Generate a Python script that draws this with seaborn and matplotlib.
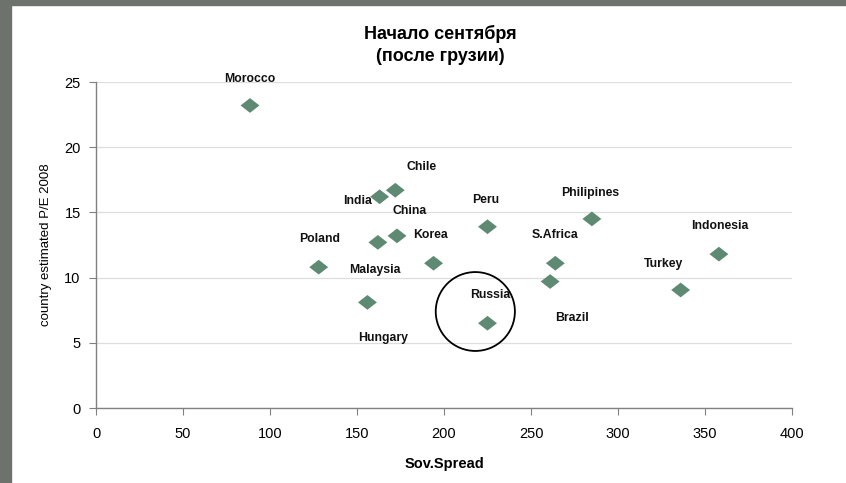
import matplotlib
matplotlib.use("Agg")
import matplotlib.pyplot as plt
import seaborn as sns
import pandas as pd
from matplotlib.patches import Ellipse, Rectangle

countries = ["Morocco", "India", "Chile", "China", "Malaysia", "Poland", "Korea",
             "Hungary", "Peru", "Russia", "S.Africa", "Brazil", "Philipines",
             "Indonesia", "Turkey"]
spread = [88.5, 163, 172, 173, 162, 128, 194, 156, 225, 225, 264, 261, 285, 358, 336]
pe = [23.2, 16.2, 16.7, 13.2, 12.7, 10.8, 11.1, 8.1, 13.9, 6.5, 11.1, 9.7, 14.5, 11.8, 9.05]
x_ticks = [0, 50, 100, 150, 200, 250, 300, 350, 400]
y_ticks = [0, 5, 10, 15, 20, 25]
title = "Начало сентября\n(после грузии)"
x_label = "Sov.Spread"
y_label = "country estimated P/E 2008"

# label offsets in points (layout)
offsets = {
    "Morocco": (0, 19), "India": (-16, -3), "Chile": (19, 17), "China": (9, 18),
    "Malaysia": (-2, -20), "Poland": (1, 20), "Korea": (-2, 20), "Hungary": (11, -26),
    "Peru": (-1, 19), "Russia": (2, 20), "S.Africa": (0, 20), "Brazil": (16, -26),
    "Philipines": (-1, 19), "Indonesia": (1, 20), "Turkey": (-12, 19),
}

df = pd.DataFrame({"country": countries, "spread": spread, "pe": pe})

sns.set_theme(style="white")
plt.rcParams["font.family"] = ["Liberation Sans", "DejaVu Sans"]
plt.rcParams["text.color"] = "black"

fig = plt.figure(figsize=(8.46, 4.83), dpi=100)
fig.patch.set_facecolor("white")
# gray frame strips
fig.patches.append(Rectangle((0, 0), 11 / 846, 1, transform=fig.transFigure,
                             color="#6d726d", zorder=0))
fig.patches.append(Rectangle((0, 1 - 5 / 483), 1, 5 / 483, transform=fig.transFigure,
                             color="#6d726d", zorder=0))

ax = fig.add_axes([96 / 846, 1 - 408 / 483, (792 - 96) / 846, (408 - 82) / 483])
diamond = [(-1, 0), (0, 0.78), (1, 0), (0, -0.78), (-1, 0)]
sns.scatterplot(data=df, x="spread", y="pe", marker=diamond, s=185, color="#5e8a74",
                edgecolor="none", ax=ax, zorder=3)

for c, xv, yv in zip(countries, spread, pe):
    dx, dy = offsets[c]
    ax.annotate(c, (xv, yv), xytext=(dx, dy), textcoords="offset points",
                ha="center", va="center", fontsize=8.8, fontweight="bold", color="#111111")

ax.add_patch(Ellipse((218, 7.4), 45.5, 6.05, fill=False, edgecolor="black", lw=1.3, zorder=4))

ax.set_xlim(0, 400)
ax.set_ylim(0, 25)
ax.set_xticks(x_ticks)
ax.set_yticks(y_ticks)
ax.yaxis.grid(True, color="#dedede", lw=0.9)
ax.set_axisbelow(True)
for s in ["top", "right"]:
    ax.spines[s].set_visible(False)
for s in ["left", "bottom"]:
    ax.spines[s].set_color("#808080")
    ax.spines[s].set_linewidth(1)
ax.tick_params(axis="both", which="both", direction="out", length=5, width=0.8,
               color="#808080", labelsize=10.5, labelcolor="black", bottom=True, left=True)
ax.tick_params(axis="x", pad=9)
ax.tick_params(axis="y", pad=6)
ax.set_xlabel(x_label, fontsize=10.5, fontweight="bold", labelpad=11, color="black")
ax.set_ylabel(y_label, fontsize=9.5, labelpad=9, color="black")
fig.text(0.52, 1 - 45 / 483, title, ha="center", va="center", fontsize=13,
         fontweight="bold", linespacing=1.45, color="black")

fig.savefig("out.png", dpi=100)
